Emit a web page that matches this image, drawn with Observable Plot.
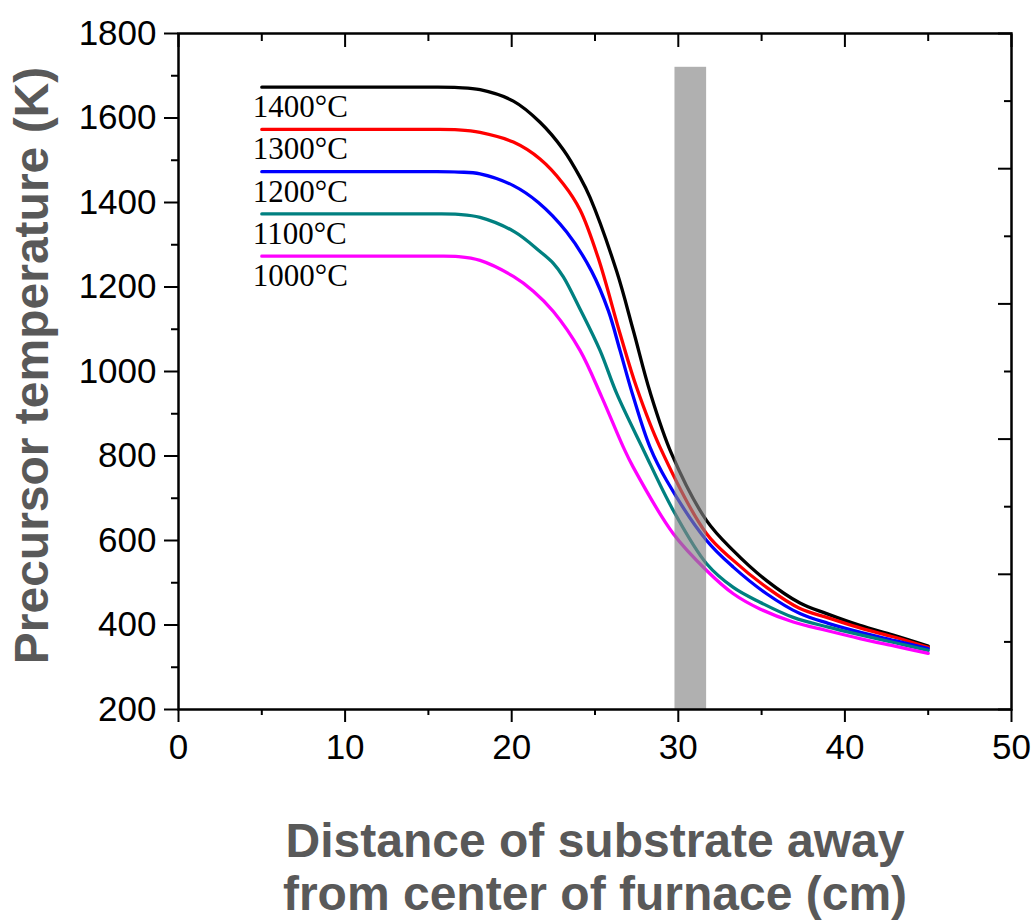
<!DOCTYPE html>
<html>
<head>
<meta charset="utf-8">
<script src="https://cdn.jsdelivr.net/npm/d3@7"></script>
<script src="https://cdn.jsdelivr.net/npm/@observablehq/plot@0.6"></script>
<style>
  html, body { margin: 0; padding: 0; background: #fff; }
  #chart svg { display: block; }
</style>
</head>
<body>
<div id="chart"></div>
<script>
// Series labels and colours
const seriesLabels = ["1400°C", "1300°C", "1200°C", "1100°C", "1000°C"];
const seriesColors = ["#000000", "#ff0000", "#0000ff", "#008080", "#ff00ff"];

// Distance (cm) and precursor temperature (K)
const dist1400 = [5, 10, 15, 16.8, 18.1, 20.1, 21.7, 23.1, 24.1, 24.7, 26.3, 27.3, 28.3, 29.6, 31.7, 33.3, 35.3, 37.3, 38.9, 40.9, 42.9, 45];
const temp1400 = [1673, 1673, 1673, 1672, 1667, 1640, 1590, 1525, 1460, 1412, 1237, 1097, 952, 805, 647, 576, 505, 452, 427, 399, 376, 350];

const dist1300 = [5, 10, 15, 16.8, 18.1, 20.1, 21.7, 23.1, 24.1, 25.2, 26.5, 27.5, 28.9, 31.7, 33.3, 35.3, 37.3, 39, 41, 43, 45];
const temp1300 = [1573, 1573, 1573, 1572, 1566, 1543, 1503, 1444, 1383, 1268, 1090, 962, 821, 616, 553, 489, 439, 417, 392, 371, 347];

const dist1200 = [5, 10, 15, 16.8, 18.1, 20.1, 21.6, 23.3, 24.8, 25.8, 26.5, 27.3, 28.3, 29.3, 31.7, 33.3, 35.3, 37.3, 39, 41, 43, 45];
const temp1200 = [1473, 1473, 1473, 1472, 1468, 1440, 1400, 1330, 1237, 1144, 1050, 940, 821, 742, 600, 537, 474, 427, 404, 382, 363, 344];

const dist1100 = [5, 10, 15, 16.8, 18.1, 20.2, 21.7, 22.5, 23.1, 24.1, 25.3, 26.3, 27.9, 29.7, 31.7, 33.3, 34.9, 36.9, 39, 41, 43, 45];
const temp1100 = [1373, 1373, 1373, 1372, 1365, 1330, 1284, 1256, 1224, 1148, 1050, 948, 815, 671, 545, 489, 454, 418, 395, 376, 358, 340];

const dist1000 = [5, 10, 15, 16.8, 18.1, 20.1, 21.3, 22.5, 24.1, 25.4, 26.7, 27.3, 29.7, 31.7, 33.3, 34.9, 36.9, 38.9, 40.9, 43, 45];
const temp1000 = [1273, 1273, 1273, 1272, 1263, 1225, 1190, 1142, 1050, 940, 821, 773, 616, 529, 474, 438, 407, 387, 368, 350, 333];

// Shaded substrate region
const bandStart = 29.8, bandEnd = 31.7, bandTop = 1720;

// Tick values
const xMajorTicks = [0, 10, 20, 30, 40, 50];
const xMinorTicks = [5, 15, 25, 35, 45];
const yMajorTicks = [200, 400, 600, 800, 1000, 1200, 1400, 1600, 1800];
const yMinorTicks = [300, 500, 700, 900, 1100, 1300, 1500, 1700];
const rightMajorTicks = [200, 520, 840, 1160, 1480, 1800];
const rightMinorTicks = [360, 680, 1000, 1320, 1640];

const xTitle = "Distance of substrate away\nfrom center of furnace (cm)";
const yTitle = "Precursor temperature (K)";

// Build a tidy table
const dists = [dist1400, dist1300, dist1200, dist1100, dist1000];
const temps = [temp1400, temp1300, temp1200, temp1100, temp1000];
const rows = [];
seriesLabels.forEach((s, i) => {
  dists[i].forEach((d, j) => rows.push({series: s, dist: d, temp: temps[i][j]}));
});
const labelRows = seriesLabels.map((s, i) => ({series: s, dist: dists[i][0], temp: temps[i][0]}));
const band = [{x1: bandStart, x2: bandEnd, y1: 200, y2: bandTop}];

const blank = () => "";
const plain = d3.format("d");

const chart = Plot.plot({
  width: 1036,
  height: 922,
  marginLeft: 178,
  marginRight: 25,
  marginTop: 33,
  marginBottom: 213,
  style: {fontFamily: "'Liberation Sans', Arial, sans-serif", background: "#fff", color: "#000"},
  x: {domain: [0, 50]},
  y: {domain: [200, 1800]},
  color: {domain: seriesLabels, range: seriesColors},
  marks: [
    // lines
    Plot.line(rows, {x: "dist", y: "temp", z: "series", stroke: "series", strokeWidth: 3.3, curve: "catmull-rom"}),
    // labels
    Plot.text(labelRows, {x: "dist", y: "temp", text: "series", textAnchor: "start", lineAnchor: "middle",
      dx: -9, dy: 20, fontFamily: "'Liberation Serif', 'Times New Roman', serif", fontSize: 31, fill: "#000"}),
    // shaded band (semi-transparent, over the lines)
    Plot.rect(band, {x1: "x1", x2: "x2", y1: "y1", y2: "y2", fill: "#848484", fillOpacity: 0.643}),
    // frame
    Plot.frame({stroke: "#000", strokeWidth: 2.5}),
    // left axis
    Plot.axisY({anchor: "left", ticks: yMajorTicks, tickSize: 14, tickPadding: 8, tickFormat: plain, fontSize: 35, strokeWidth: 2, label: null}),
    Plot.axisY({anchor: "left", ticks: yMinorTicks, tickSize: 7, tickFormat: blank, strokeWidth: 2, label: null}),
    // bottom axis
    Plot.axisX({anchor: "bottom", ticks: xMajorTicks, tickSize: 13, tickPadding: 12, tickFormat: plain, fontSize: 35, strokeWidth: 2, label: null}),
    Plot.axisX({anchor: "bottom", ticks: xMinorTicks, tickSize: 6, tickFormat: blank, strokeWidth: 2, label: null}),
    // top axis (inward ticks)
    Plot.axisX({anchor: "top", ticks: xMajorTicks, tickSize: 13, dy: 13, tickFormat: blank, strokeWidth: 2, label: null}),
    Plot.axisX({anchor: "top", ticks: xMinorTicks, tickSize: 7, dy: 7, tickFormat: blank, strokeWidth: 2, label: null}),
    // right axis (inward ticks)
    Plot.axisY({anchor: "right", ticks: rightMajorTicks, tickSize: 14, dx: -14, tickFormat: blank, strokeWidth: 2, label: null}),
    Plot.axisY({anchor: "right", ticks: rightMinorTicks, tickSize: 8, dx: -8, tickFormat: blank, strokeWidth: 2, label: null}),
    // axis titles
    Plot.text([yTitle], {frameAnchor: "left", textAnchor: "middle", lineAnchor: "middle", rotate: -90, dx: -146, dy: -6, fontSize: 48, fontWeight: "bold", fill: "#595959"}),
    Plot.text([xTitle], {frameAnchor: "bottom", textAnchor: "middle", lineAnchor: "top", dy: 109, lineHeight: 1.12, fontSize: 48, fontWeight: "bold", fill: "#595959"})
  ]
});
document.getElementById("chart").appendChild(chart);
</script>
</body>
</html>
